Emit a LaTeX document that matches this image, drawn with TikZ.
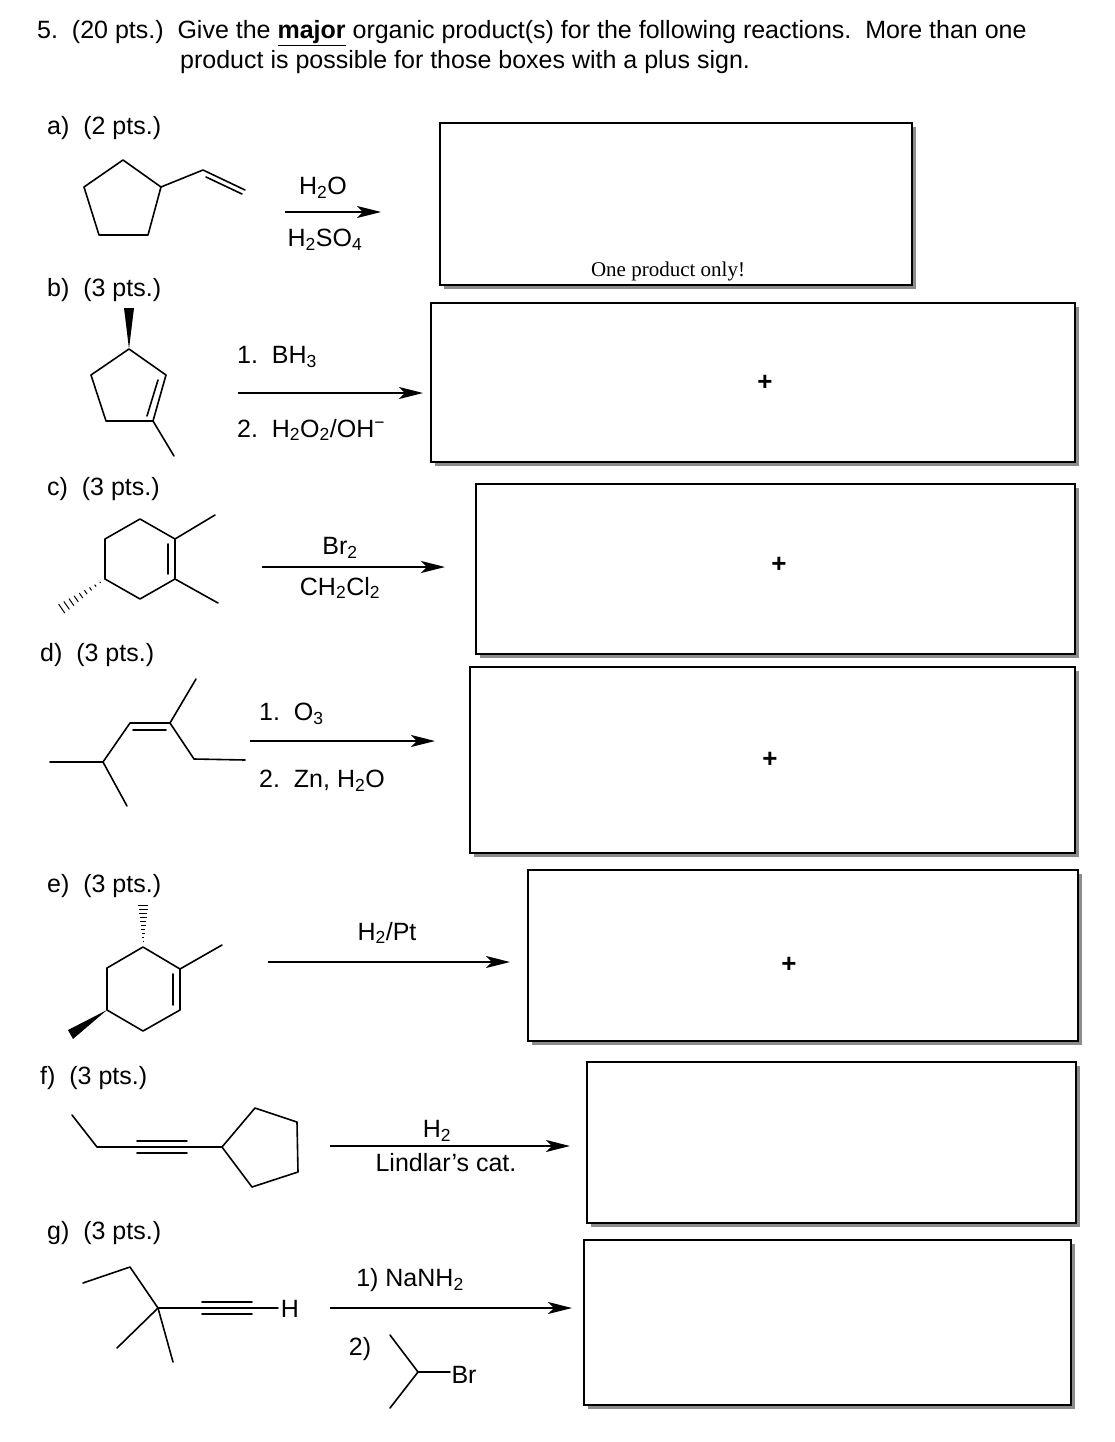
\documentclass[tikz,border=0pt]{standalone}
\usepackage{fontspec}
\setmainfont{Liberation Sans}
\newfontfamily\serifff{Liberation Serif}
\usetikzlibrary{arrows.meta,calc}
\newcommand{\sbs}[1]{\textsubscript{#1}}
\newcommand{\sps}[1]{\textsuperscript{#1}}
\begin{document}
\begin{tikzpicture}[x=1pt,y=-1pt,
  bond/.style={line width=1.6pt,line cap=round,line join=round},
  rxn/.style={line width=1.4pt,-{Stealth[length=24pt,width=12pt,inset=6pt]}},
  txt/.style={font=\fontsize{25}{28}\selectfont,inner sep=0pt},
  box/.style={draw,line width=1.4pt},
  shadow/.style={fill=black!45}]
\useasboundingbox (0,0) rectangle (1114,1442);
% header
\node[txt,anchor=west] (h1) at (37,33) {5.\ \ (20 pts.)\ \ Give the \textbf{\underline{major}} organic product(s) for the following reactions.\ \ More than one};
\node[txt,anchor=west] (h2) at (180,62) {product is possible for those boxes with a plus sign.};
% labels
\node[txt,anchor=west] (la) at (47,128) {a)\ \ (2 pts.)};
\node[txt,anchor=west] (lb) at (47,290) {b)\ \ (3 pts.)};
\node[txt,anchor=west] (lc) at (47,489) {c)\ \ (3 pts.)};
\node[txt,anchor=west] (ld) at (40,655) {d)\ \ (3 pts.)};
\node[txt,anchor=west] (le) at (47,886) {e)\ \ (3 pts.)};
\node[txt,anchor=west] (lf) at (40,1078) {f)\ \ (3 pts.)};
\node[txt,anchor=west] (lg) at (47,1233) {g)\ \ (3 pts.)};
% boxes with shadows
\foreach \a/\b/\c/\d in {440/123/912/285, 431/303/1075/462, 476/484/1075/654, 470/667/1075/853, 528/870/1078/1041, 587/1062/1076/1223, 584/1240/1071/1405}{
  \fill[shadow] (\a+4,\d) rectangle (\c+4,\d+4);
  \fill[shadow] (\c,\b+4) rectangle (\c+4,\d+4);
  \draw[box] (\a,\b) rectangle (\c,\d);
}
\node[inner sep=0pt,font=\serifff\fontsize{21}{24}\selectfont] (one) at (668,271) {One product only!};
\foreach \x/\y in {765/383, 779/565, 770/760, 789/965}{\node[txt,font=\bfseries\fontsize{26}{28}\selectfont] at (\x,\y) {+};}
% a
\draw[bond] (123,160)--(161,187)--(148,235)--(99,235)--(84,187)--cycle;
\draw[bond] (161,187)--(203,170)--(245,190);
\draw[bond] (206,177)--(242,194);
\draw[rxn] (285,212)--(381,212);
\node[txt] at (323,188) {H\sbs{2}O};
\node[txt] at (325,240) {H\sbs{2}SO\sbs{4}};
% b
\fill (129,349)--(124,308)--(134,308)--cycle;
\draw[bond] (129,349)--(166,375)--(153,421)--(106,421)--(91,375)--cycle;
\draw[bond] (158,380)--(147,416);
\draw[bond] (153,421)--(174,456);
\draw[rxn] (238,393)--(423,393);
\node[txt,anchor=west] at (237,357) {1.\ \ BH\sbs{3}};
\node[txt,anchor=west] at (237,430) {2.\ \ H\sbs{2}O\sbs{2}/OH\sps{\textminus}};
% c
\draw[bond] (140,519)--(175,539)--(175,579)--(140,599)--(105,579)--(105,539)--cycle;
\draw[bond] (168,544)--(168,574);
\draw[bond] (175,539)--(215,515);
\draw[bond] (175,579)--(218,603);
\foreach \t in {0,0.1,...,1.0}{
  \draw[line width=1pt] ($(105,579)!\t!(57,612)+(\t*3.5,\t*5)$)--($(105,579)!\t!(57,612)-(\t*3.5,\t*5)$);}
\draw[rxn] (262,567)--(445,567);
\node[txt] at (340,548) {Br\sbs{2}};
\node[txt] at (340,588) {CH\sbs{2}Cl\sbs{2}};
% d
\draw[bond] (50,762)--(103,762)--(127,806);
\draw[bond] (103,762)--(130,723)--(170,723);
\draw[bond] (133,730)--(166,730);
\draw[bond] (170,723)--(196,679);
\draw[bond] (170,723)--(194,759)--(245,760);
\draw[rxn] (250,741)--(435,741);
\node[txt,anchor=west] at (259,714) {1.\ \ O\sbs{3}};
\node[txt,anchor=west] at (259,781) {2.\ \ Zn, H\sbs{2}O};
% e
\draw[bond] (143,947)--(180,969)--(180,1010)--(143,1031)--(107,1010)--(107,968)--cycle;
\draw[bond] (173,974)--(173,1005);
\draw[bond] (180,969)--(222,945);
\foreach \t in {0.1,0.2,...,1.0}{
  \draw[line width=1pt] ($(143,945)!\t!(143,905)+(\t*5,0)$)--($(143,945)!\t!(143,905)-(\t*5,0)$);}
\fill (107,1010)--(68,1030)--(73,1039)--cycle;
\draw[rxn] (268,962)--(510,962);
\node[txt] at (387,933) {H\sbs{2}/Pt};
% f
\draw[bond] (72,1115)--(97,1147)--(222,1147);
\draw[bond] (137,1141)--(187,1141);
\draw[bond] (137,1153)--(187,1153);
\draw[bond] (222,1147)--(255,1108)--(297,1122)--(298,1172)--(252,1187)--cycle;
\draw[rxn] (330,1146)--(570,1146);
\node[txt] at (437,1131) {H\sbs{2}};
\node[txt] at (446,1163) {Lindlar{\char"27}s cat.};
% g
\draw[bond] (83,1283)--(130,1267)--(158,1308);
\draw[bond] (158,1308)--(117,1348);
\draw[bond] (158,1308)--(173,1362);
\draw[bond] (158,1308)--(278,1308);
\draw[bond] (202,1302)--(252,1302);
\draw[bond] (202,1314)--(252,1314);
\node[txt] at (290,1309) {H};
\draw[rxn] (330,1308)--(572,1308);
\node[txt] at (410,1280) {1) NaNH\sbs{2}};
\node[txt] at (360,1349) {2)};
\draw[bond] (390,1335)--(418,1372)--(390,1408);
\draw[bond] (418,1372)--(450,1372);
\node[txt] at (464,1375) {Br};
\end{tikzpicture}
\end{document}
